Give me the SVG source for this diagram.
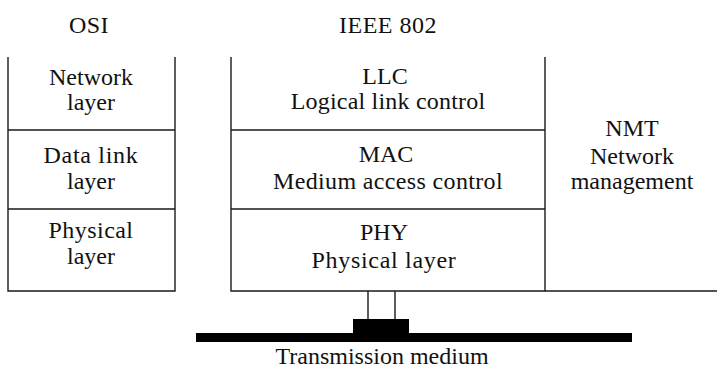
<svg xmlns="http://www.w3.org/2000/svg" width="722" height="373" viewBox="0 0 722 373">
  <style>
    text { font-family: "Liberation Serif", serif; font-size: 24px; fill: #111; text-anchor: middle; }
    .ln { stroke: #1a1a1a; stroke-width: 1.4; fill: none; }
    .solid { fill: #000; }
  </style>
  <rect width="722" height="373" fill="#fff"/>

  <!-- column headings -->
  <g id="headings">
    <text x="89" y="33" letter-spacing="0.4">OSI</text>
    <text x="388" y="33" letter-spacing="0.5">IEEE 802</text>
  </g>

  <!-- OSI stack -->
  <g id="osi">
    <path class="ln" d="M8,57 V291 H175 V57 M8,130 H175 M8,209 H175"/>
    <text x="91" y="85">Network</text>
    <text x="91" y="110">layer</text>
    <text x="91" y="163" letter-spacing="0.7">Data link</text>
    <text x="91" y="189">layer</text>
    <text x="91" y="238" letter-spacing="0.45">Physical</text>
    <text x="91" y="264">layer</text>
  </g>

  <!-- IEEE 802 stack -->
  <g id="ieee">
    <path class="ln" d="M231,57 V291 H545 V57 M231,130 H545 M231,209 H545"/>
    <g id="llc">
      <text x="385" y="84">LLC</text>
      <text x="388" y="109" letter-spacing="0.2">Logical link control</text>
    </g>
    <g id="mac">
      <text x="386" y="162">MAC</text>
      <text x="388" y="189" letter-spacing="0.35">Medium access control</text>
    </g>
    <g id="phy">
      <text x="384" y="240">PHY</text>
      <text x="384" y="268" letter-spacing="0.7">Physical layer</text>
    </g>
  </g>

  <!-- network management column -->
  <g id="nmt">
    <path class="ln" d="M545,291 H717"/>
    <text x="632" y="136">NMT</text>
    <text x="632" y="164">Network</text>
    <text x="632" y="189">management</text>
  </g>

  <!-- attachment to the medium -->
  <g id="connectors">
    <path class="ln" d="M368,291 V320 M395,291 V320"/>
  </g>

  <g id="medium">
    <rect class="solid" x="353" y="319" width="56" height="23"/>
    <rect class="solid" x="196" y="333" width="436" height="9"/>
    <text x="382" y="364">Transmission medium</text>
  </g>
</svg>
